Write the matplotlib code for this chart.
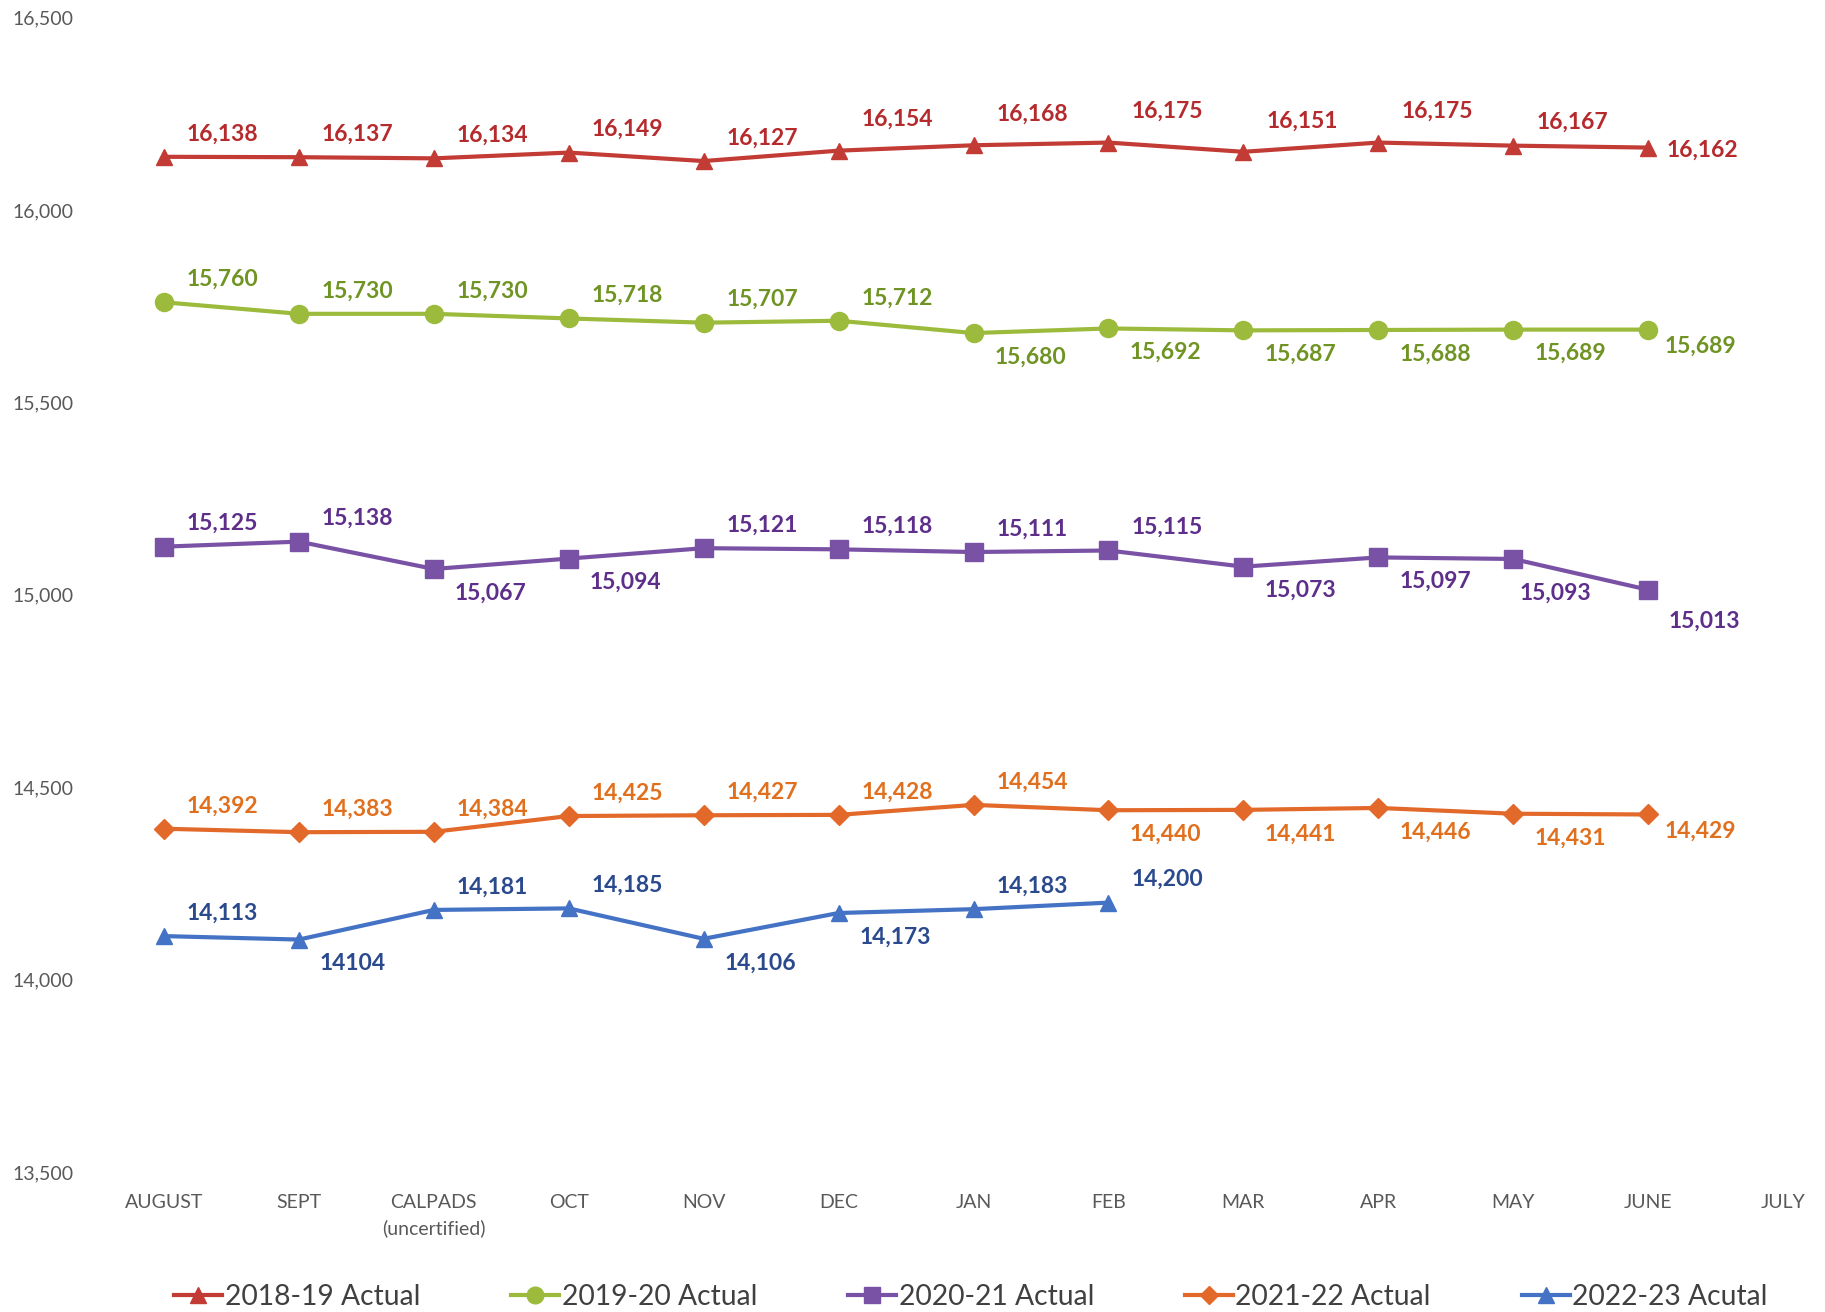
import matplotlib
matplotlib.use("Agg")
import matplotlib.pyplot as plt
from matplotlib.lines import Line2D

# ---------------- data ----------------
months = ["AUGUST", "SEPT", "CALPADS\n(uncertified)", "OCT", "NOV", "DEC",
          "JAN", "FEB", "MAR", "APR", "MAY", "JUNE", "JULY"]

s2018 = [16138, 16137, 16134, 16149, 16127, 16154, 16168, 16175, 16151, 16175, 16167, 16162]
s2019 = [15760, 15730, 15730, 15718, 15707, 15712, 15680, 15692, 15687, 15688, 15689, 15689]
s2020 = [15125, 15138, 15067, 15094, 15121, 15118, 15111, 15115, 15073, 15097, 15093, 15013]
s2021 = [14392, 14383, 14384, 14425, 14427, 14428, 14454, 14440, 14441, 14446, 14431, 14429]
s2022 = [14113, 14104, 14181, 14185, 14106, 14173, 14183, 14200]

names = ["2018-19 Actual", "2019-20 Actual", "2020-21 Actual", "2021-22 Actual", "2022-23 Acutal"]

# label placement per point: a=above, A=higher above, b=below, B=further below (centred),
# L=further below right, r=right, m=right slightly below
p2018 = ["a", "a", "a", "a", "a", "A", "A", "A", "A", "A", "a", "r"]
p2019 = ["a"] * 6 + ["b"] * 5 + ["m"]
p2020 = ["a", "a", "b", "b", "a", "a", "a", "a", "b", "b", "B", "L"]
p2021 = ["a"] * 7 + ["b"] * 4 + ["m"]
p2022 = ["a", "b", "a", "a", "b", "b", "a", "a"]

yticks = [13500, 14000, 14500, 15000, 15500, 16000, 16500]

lab2022 = [f"{v:,}" for v in s2022]
lab2022[1] = "14104"

# ---------------- style ----------------
line_cols = ["#C23B35", "#9CBB3C", "#7A52A5", "#E2692A", "#4472C4"]
text_cols = ["#B52A2C", "#6F9424", "#5E2F8A", "#E0701E", "#2B4A8E"]
markers = ["^", "o", "s", "D", "^"]
msizes = [12, 13, 13, 10, 12]

plt.rcParams["font.family"] = ["Lato", "DejaVu Sans"]

W, H, DPI = 1825, 1312, 100
fig = plt.figure(figsize=(W / DPI, H / DPI), dpi=DPI)

# axes placement so that category 0 -> x=164px, category 12 -> x=1783px
x0_px, x12_px = 164, 1783
unit = (x12_px - x0_px) / 12
ax_l_px, ax_r_px = 110, 1810
xmin = (ax_l_px - x0_px) / unit
xmax = (ax_r_px - x0_px) / unit
top_px, bot_px = 17.5, 1172
ax = fig.add_axes([ax_l_px / W, 1 - bot_px / H, (ax_r_px - ax_l_px) / W, (bot_px - top_px) / H])
ax.set_xlim(xmin, xmax)
ax.set_ylim(yticks[0], yticks[-1])
for sp in ax.spines.values():
    sp.set_visible(False)

ax.set_xticks(range(len(months)))
ax.set_xticklabels(months, fontsize=14, color="#595959", linespacing=1.55)
ax.set_yticks(yticks)
ax.set_yticklabels([f"{v:,}" for v in yticks], fontsize=14, color="#595959", ha="left")
ax.tick_params(axis="x", length=0, pad=16)
ax.tick_params(axis="y", length=0, pad=(ax_l_px - 12) * 72 / DPI)

series = [s2018, s2019, s2020, s2021, s2022]
places = [p2018, p2019, p2020, p2021, p2022]
labels_all = [[f"{v:,}" for v in s] for s in series[:4]] + [lab2022]

offsets = {"a": (23, 23), "A": (23, 31), "b": (21, -24), "B": (6, -34),
           "L": (20, -31), "r": (18, -3), "m": (16, -17)}

handles = []
for i, s in enumerate(series):
    xs = list(range(len(s)))
    ax.plot(xs, s, color=line_cols[i], lw=3, marker=markers[i],
            ms=msizes[i], mfc=line_cols[i], mec=line_cols[i], zorder=3)
    for x, v, p, t in zip(xs, s, places[i], labels_all[i]):
        dx, dy = offsets[p]
        ax.annotate(t, (x, v), xytext=(dx, dy), textcoords="offset pixels",
                    ha="left", va="center", fontsize=16.5, fontweight="bold",
                    color=text_cols[i], zorder=4)
    handles.append(Line2D([0], [0], color=line_cols[i], lw=3, marker=markers[i],
                          ms=msizes[i] - 1, mfc=line_cols[i], mec=line_cols[i]))

fig.legend(handles, names, loc="center", bbox_to_anchor=(0.532, 1 - 1297 / H),
           ncol=5, frameon=False, fontsize=20.3, handlelength=1.7,
           handletextpad=0.1, columnspacing=3.22, labelcolor="#404040")

fig.savefig("out.png", dpi=DPI, facecolor="white")
